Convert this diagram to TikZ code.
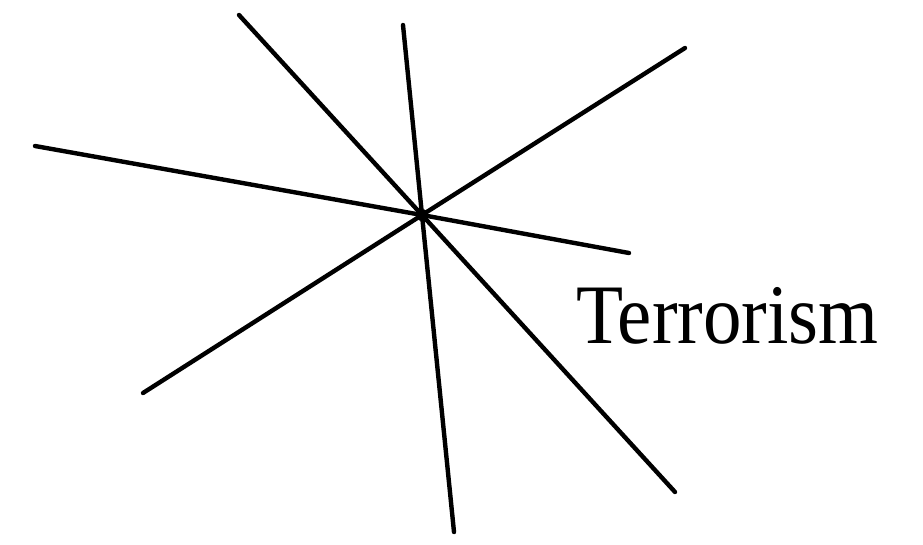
\documentclass[tikz,border=0pt]{standalone}
\usepackage{fontspec}
\setmainfont{Liberation Serif}
\usepackage{tikz}
\definecolor{my_black}{HTML}{000000}

\begin{document}
\begin{tikzpicture}[
    x=1pt, y=-1pt,
    strahl/.style={line width=4.4pt, line cap=round, my_black},
    punkt/.style={circle, fill=my_black, inner sep=0pt, minimum size=12pt},
    wort/.style={font=\fontsize{77}{80}\selectfont, inner sep=0pt, anchor=base west}
]
\useasboundingbox (0, 0) rectangle (923, 544);

% ===== Mittelpunkt und Endpunkte der Strahlen =====
\node[punkt] (mitte) at (422, 215) {};
\coordinate (a1) at (239, 15);
\coordinate (a2) at (675, 492);
\coordinate (b1) at (403, 25);
\coordinate (b2) at (454, 532);
\coordinate (c1) at (685, 48);
\coordinate (c2) at (143, 393);
\coordinate (d1) at (35, 146);
\coordinate (d2) at (629, 253);

% ===== Strahlen =====
\draw[strahl] (a1) -- (mitte.center) -- (a2);
\draw[strahl] (b1) -- (mitte.center) -- (b2);
\draw[strahl] (c1) -- (mitte.center) -- (c2);
\draw[strahl] (d1) -- (mitte.center) -- (d2);

% ===== Beschriftung =====
\node[wort] (terror) at (576, 343) {\scalebox{1}[1.1]{Terrorism}};

\end{tikzpicture}
\end{document}
